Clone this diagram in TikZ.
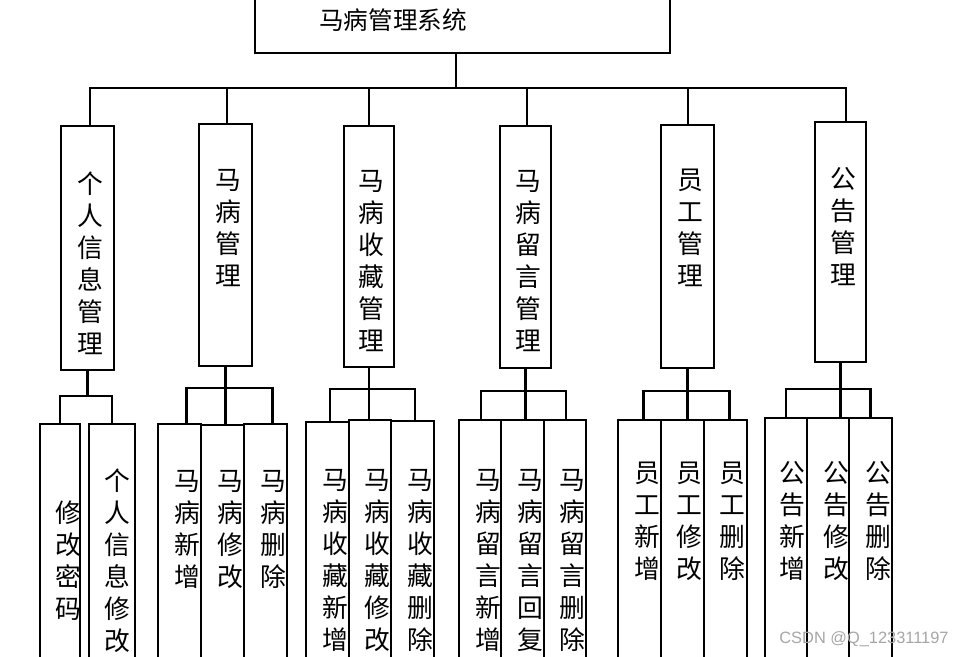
\documentclass[tikz,border=0pt]{standalone}
\usepackage{fontspec}
\newfontfamily\cjk{Noto Sans CJK SC}
\newfontfamily\wmfont{Liberation Sans}
\usetikzlibrary{positioning, fit}
\tikzset{
    x=0.03cm, y=-0.03cm, % one unit is one pixel of the sketch, y runs downwards
    line/.style={line width=2.2pt, line cap=rect}, % every stroke
    box/.style={draw, line width=2.2pt, inner sep=0pt}, % a frame, sized by fit
    vtext/.style={anchor=north, align=center, inner sep=0pt, font=\cjk\fontsize{22}{27.3}\selectfont}, % stacked characters
}

\begin{document}
\begin{tikzpicture}
    \useasboundingbox (0,0) rectangle (965,657);
    \clip (0,0) rectangle (965,657);

    % system box, cut off by the upper edge
    \node[box, fit={(255,-20) (670,53)}] (sys) {};
    \node[font=\cjk\fontsize{21}{25}\selectfont] (title) at (393,20) {马病管理系统};

    % modules
    \foreach \n/\xa/\ya/\xb/\yb/\t/\ty in {
        pinfo/61/126/114/370/{个\\人\\信\\息\\管\\理}/185,
        horse/199/124/252/366/{马\\病\\管\\理}/182,
        collect/344/126/394/367/{马\\病\\收\\藏\\管\\理}/183,
        msg/500/126/551/368/{马\\病\\留\\言\\管\\理}/183,
        staff/661/125/714/368/{员\\工\\管\\理}/182,
        notice/815/122/866/362/{公\\告\\管\\理}/180}{
        \node[box, fit={(\xa,\ya) (\xb,\yb)}] (\n) {};
        \node[vtext] (\n-t) at ({(\xa+\xb)/2+2.5},\ty-13) {\t};
    }

    % functions, cut off by the lower edge
    \foreach \n/\xa/\ya/\xb/\t/\tx/\ty in {
        pwd/40/424/80/{修\\改\\密\\码}/68/514,
        pedit/89/424/135/{个\\人\\信\\息\\修\\改}/117/482,
        hadd/158/424/201/{马\\病\\新\\增}/187/483,
        hedit/201/425/244/{马\\病\\修\\改}/230/483,
        hdel/244/424/287/{马\\病\\删\\除}/273/483,
        cadd/306/422/349/{马\\病\\收\\藏\\新\\增}/335/482,
        cedit/349/420/391/{马\\病\\收\\藏\\修\\改}/377/482,
        cdel/391/421/434/{马\\病\\收\\藏\\删\\除}/420/482,
        madd/459/420/501/{马\\病\\留\\言\\新\\增}/488/482,
        mreply/501/420/544/{马\\病\\留\\言\\回\\复}/530/482,
        mdel/544/420/586/{马\\病\\留\\言\\删\\除}/572/482,
        sadd/618/420/661/{员\\工\\新\\增}/647/475,
        sedit/661/420/704/{员\\工\\修\\改}/689/475,
        sdel/704/420/747/{员\\工\\删\\除}/732/475,
        nadd/765/418/807/{公\\告\\新\\增}/792/474,
        nedit/807/418/849/{公\\告\\修\\改}/836/474,
        ndel/849/418/892/{公\\告\\删\\除}/878/474}{
        \node[box, fit={(\xa,\ya) (\xb,700)}] (\n) {};
        \node[vtext] (\n-t) at (\tx,\ty-13) {\t};
    }

    % system to modules
    \coordinate (trunk) at (456,88);
    \draw[line] (sys.south -| trunk) -- (trunk);
    \draw[line] ([xshift=2.5*0.03cm]pinfo.north |- trunk) -- ([xshift=5.5*0.03cm]notice.north |- trunk);
    \foreach \n/\dx in {pinfo/2.5,horse/1.5,collect/0,msg/1.5,staff/0.5,notice/5.5}
        \draw[line] ([xshift=\dx*0.03cm]\n.north |- trunk) -- ([xshift=\dx*0.03cm]\n.north);

    % modules to functions
    \coordinate (pbus) at (0,396);
    \draw[line] (pinfo.south) -- (pinfo.south |- pbus);
    \draw[line] (pwd.north) |- (pinfo.south |- pbus) -| (pedit.north);
    \foreach \p/\l/\m/\r/\y/\dx in {horse/hadd/hedit/hdel/388/7, collect/cadd/cedit/cdel/389/2.5,
        msg/madd/mreply/mdel/391/1, staff/sadd/sedit/sdel/391/4, notice/nadd/nedit/ndel/389/0}{
        \coordinate (bus) at (0,\y);
        \draw[line] ([xshift=\dx*0.03cm]\l.north) |- (\p.south |- bus) -| ([xshift=\dx*0.03cm]\r.north);
        \draw[line] (\p.south) -- (\p.south |- \m.north);
    }

    % watermark
    \node[font=\wmfont\fontsize{14}{16}\selectfont, text=gray!70] (mark) at (864,639) {CSDN @Q\_123311197};
\end{tikzpicture}
\end{document}
